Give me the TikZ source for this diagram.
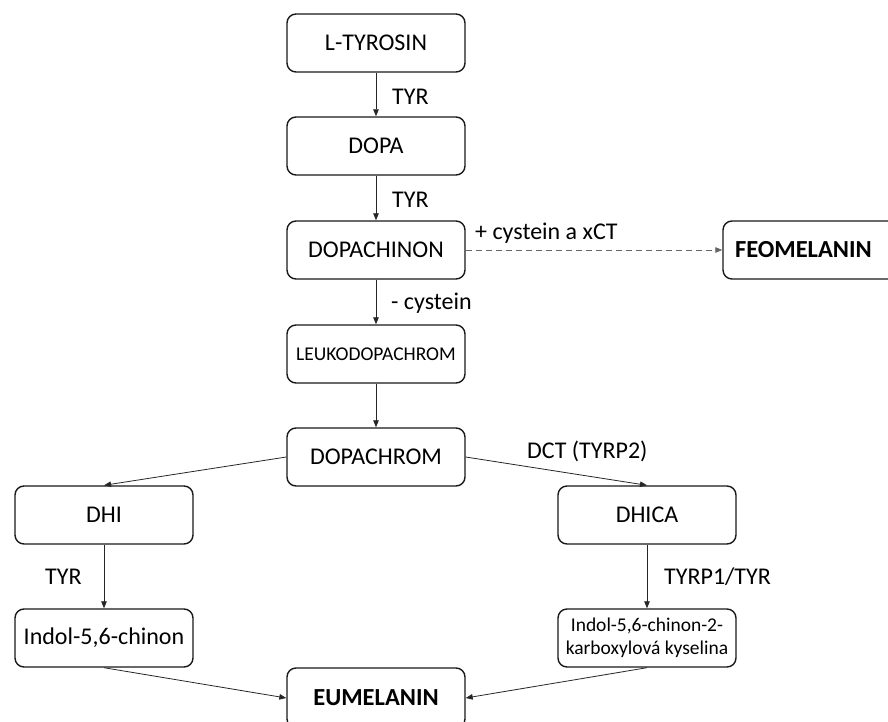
\documentclass[tikz,border=0pt]{standalone}
\usepackage{fontspec}
\setmainfont{Carlito}
\usetikzlibrary{arrows.meta}
\tikzset{
  box/.style={draw=black!90, line width=1.4pt, rounded corners=9pt, minimum width=178pt, minimum height=58pt, inner sep=0pt, align=center, font=\fontsize{24}{28}\selectfont},
  smallbox/.style={box, font=\fontsize{19.5}{23}\selectfont},
  boldbox/.style={box, font=\fontsize{24.5}{28}\selectfont\bfseries},
  lbl/.style={anchor=west, inner sep=0pt, font=\fontsize{24}{28}\selectfont},
  conn/.style={draw=black!85, line width=0.8pt, -{Triangle[length=7pt,width=5.5pt]}},
  dconn/.style={conn, draw=black!60, dashed, dash pattern=on 6pt off 4pt}
}
\begin{document}
\begin{tikzpicture}[x=1pt,y=-1pt]
\useasboundingbox (0,0) rectangle (888,722);
\node[box] (tyr) at (376,43) {L-TYROSIN};
\node[box] (dopa) at (376,146) {DOPA};
\node[box] (dchin) at (376,250) {DOPACHINON};
\node[boldbox, minimum width=180pt, text width=156pt, inner xsep=12pt, align=left] (feo) at (813,250) {FEOMELANIN};
\node[smallbox] (leuko) at (376,354) {LEUKODOPACHROM};
\node[box] (dchrom) at (376,457) {DOPACHROM};
\node[box] (dhi) at (104,515) {DHI};
\node[box] (dhica) at (647,515) {DHICA};
\node[box] (indol) at (104,638) {Indol-5,6-chinon};
\node[smallbox] (indolk) at (647,638) {Indol-5,6-chinon-2-\\karboxylová kyselina};
\node[boldbox, minimum height=60pt] (eu) at (376,698) {EUMELANIN};

\draw[conn] (tyr) -- (dopa);
\node[lbl] (l1) at (392,97) {TYR};
\draw[conn] (dopa) -- (dchin);
\node[lbl] (l2) at (392,200) {TYR};
\draw[dconn] (dchin.east) -- (feo.west);
\node[lbl] (l3) at (475,233) {+ cystein a xCT};
\draw[conn] (dchin) -- (leuko);
\node[lbl] (l4) at (391,303) {- cystein};
\draw[conn] (leuko) -- (dchrom);
\draw[conn] (dchrom.west) -- (dhi.north);
\draw[conn] (dchrom.east) -- (dhica.north);
\node[lbl] (l5) at (527,451) {DCT (TYRP2)};
\draw[conn] (dhi) -- (indol);
\node[lbl] (l6) at (45,577) {TYR};
\draw[conn] (dhica) -- (indolk);
\node[lbl] (l7) at (664,577) {TYRP1/TYR};
\draw[conn] (indol.south) -- (eu.west);
\draw[conn] (indolk.south) -- (eu.east);
\end{tikzpicture}
\end{document}
